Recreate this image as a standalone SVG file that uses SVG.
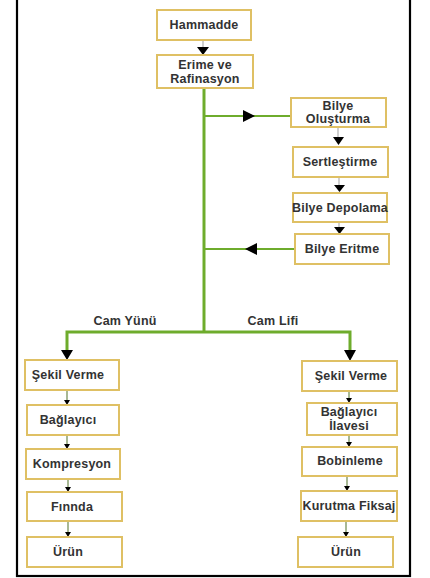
<svg xmlns="http://www.w3.org/2000/svg" width="430" height="578" viewBox="0 0 430 578">
  <style>
    .box { fill: #ffffff; stroke: #dfc064; stroke-width: 2; }
    .lbl { font-family: "Liberation Sans", Arial, sans-serif; font-weight: bold; font-size: 12.5px; letter-spacing: 0.2px; fill: #333333; text-anchor: middle; }
    .trunk { stroke: #6eac2c; stroke-width: 3; fill: none; }
    .branch { stroke: #6eac2c; stroke-width: 2; fill: none; }
    .thin { stroke: #8aa070; stroke-width: 1.5; fill: none; }
    .grey { stroke: #b0b0b0; stroke-width: 1.2; fill: none; }
    .head { fill: #000000; }
  </style>
  <rect x="0" y="0" width="430" height="578" fill="#ffffff"/>
  <rect x="17" y="-3" width="393" height="579" fill="none" stroke="#000000" stroke-width="2.2"/>

  <g id="connectors">
    <!-- main line -->
    <line class="grey" x1="203" y1="40" x2="203" y2="48"/>
    <polygon class="head" points="197,47 209,47 203,55"/>
    <line class="trunk" x1="204" y1="88" x2="204" y2="333"/>
    <!-- ball loop -->
    <line class="branch" x1="204" y1="116" x2="291" y2="116"/>
    <polygon class="head" points="243,110 255,116 243,122"/>
    <line class="grey" x1="338" y1="127" x2="338" y2="138"/>
    <polygon class="head" points="333,137 344,137 338.5,145"/>
    <line class="grey" x1="339" y1="177" x2="339" y2="186"/>
    <polygon class="head" points="334,185 345,185 339.5,192"/>
    <line class="grey" x1="339" y1="222" x2="339" y2="228"/>
    <polygon class="head" points="334,227 345,227 339.5,234"/>
    <line class="branch" x1="295" y1="249" x2="204" y2="249"/>
    <polygon class="head" points="257,243 245,249 257,255"/>
    <!-- split -->
    <polyline class="trunk" points="67,351 67,332 350,332 350,351"/>
    <polygon class="head" points="61,350 73,350 67,360"/>
    <polygon class="head" points="344,350 356,350 350,361"/>
    <!-- left chain -->
    <line class="thin" x1="67" y1="390" x2="67" y2="401"/>
    <polygon class="head" points="64,400 70,400 67,405"/>
    <line class="thin" x1="67" y1="435" x2="67" y2="445"/>
    <polygon class="head" points="64,444 70,444 67,449"/>
    <line class="thin" x1="68" y1="479" x2="68" y2="488"/>
    <polygon class="head" points="65,487 71,487 68,492"/>
    <line class="thin" x1="68" y1="521" x2="68" y2="533"/>
    <polygon class="head" points="65,532 71,532 68,537"/>
    <!-- right chain -->
    <line class="thin" x1="349" y1="391" x2="349" y2="399"/>
    <polygon class="head" points="346,398 352,398 349,403"/>
    <line class="thin" x1="349" y1="435" x2="349" y2="443"/>
    <polygon class="head" points="346,442 352,442 349,447"/>
    <line class="thin" x1="347" y1="476" x2="347" y2="487"/>
    <polygon class="head" points="344,486 350,486 347,491"/>
    <line class="thin" x1="346" y1="521" x2="346" y2="533"/>
    <polygon class="head" points="343,532 349,532 346,537"/>
    <!-- branch labels -->
    <text class="lbl" x="125" y="325">Cam Yünü</text>
    <text class="lbl" x="273" y="325">Cam Lifi</text>
  </g>

  <g id="hammadde"><rect class="box" x="157" y="10" width="94" height="30"/><text class="lbl" x="204" y="29">Hammadde</text></g>
  <g id="erime"><rect class="box" x="157" y="55" width="96" height="33"/><text class="lbl" x="205" y="69">Erime ve</text><text class="lbl" x="205" y="83">Rafinasyon</text></g>
  <g id="bilye-olusturma"><rect class="box" x="291" y="98" width="95" height="29"/><text class="lbl" x="338" y="110">Bilye</text><text class="lbl" x="338" y="123">Oluşturma</text></g>
  <g id="sertlestirme"><rect class="box" x="293" y="147" width="95" height="30"/><text class="lbl" x="340" y="166">Sertleştirme</text></g>
  <g id="bilye-depolama"><rect class="box" x="293" y="193" width="94" height="29"/><text class="lbl" x="340" y="212">Bilye Depolama</text></g>
  <g id="bilye-eritme"><rect class="box" x="295" y="234" width="94" height="30"/><text class="lbl" x="342" y="253">Bilye Eritme</text></g>

  <g id="sekil-verme-yun"><rect class="box" x="25" y="360" width="94" height="30"/><text class="lbl" x="68" y="379">Şekil Verme</text></g>
  <g id="baglayici"><rect class="box" x="27" y="405" width="92" height="30"/><text class="lbl" x="68" y="424">Bağlayıcı</text></g>
  <g id="kompresyon"><rect class="box" x="26" y="449" width="94" height="30"/><text class="lbl" x="72" y="468">Kompresyon</text></g>
  <g id="firinda"><rect class="box" x="27" y="492" width="95" height="29"/><text class="lbl" x="72" y="511">Fınnda</text></g>
  <g id="urun-yun"><rect class="box" x="27" y="537" width="95" height="30"/><text class="lbl" x="68" y="556">Ürün</text></g>

  <g id="sekil-verme-lif"><rect class="box" x="302" y="361" width="95" height="30"/><text class="lbl" x="351" y="380">Şekil Verme</text></g>
  <g id="baglayici-ilavesi"><rect class="box" x="307" y="403" width="90" height="32"/><text class="lbl" x="349" y="416">Bağlayıcı</text><text class="lbl" x="349" y="430">İlavesi</text></g>
  <g id="bobinleme"><rect class="box" x="302" y="447" width="95" height="29"/><text class="lbl" x="350" y="465">Bobinleme</text></g>
  <g id="kurutma-fiksaj"><rect class="box" x="301" y="491" width="96" height="30"/><text class="lbl" x="349" y="510">Kurutma Fiksaj</text></g>
  <g id="urun-lif"><rect class="box" x="298" y="537" width="95" height="30"/><text class="lbl" x="346" y="556">Ürün</text></g>
</svg>
